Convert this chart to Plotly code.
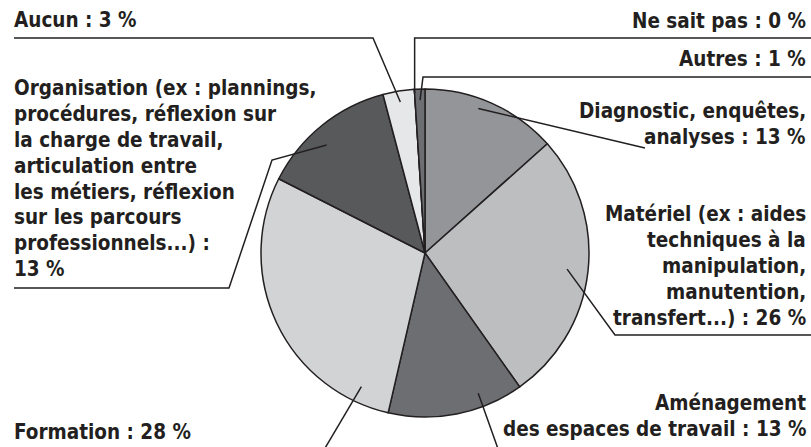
import math
import plotly.graph_objects as go

W, H = 811, 447

# Survey answers, clockwise from 12 o'clock
categories = ["Diagnostic", "Matériel", "Aménagement", "Formation",
              "Organisation", "Aucun", "Ne sait pas", "Autres"]
percents = [13, 26, 13, 28, 13, 3, 0, 1]
label_heads = [
    ["Diagnostic, enquêtes,", "analyses : "],
    ["Matériel (ex : aides", "techniques à la", "manipulation,", "manutention,",
     "transfert...) : "],
    ["Aménagement", "des espaces de travail : "],
    ["Formation : "],
    ["Organisation (ex : plannings,", "procédures, réflexion sur",
     "la charge de travail,", "articulation entre", "les métiers, réflexion",
     "sur les parcours", "professionnels...) :", ""],
    ["Aucun : "],
    ["Ne sait pas : "],
    ["Autres : "],
]
colors = ["#939598", "#bcbec0", "#6d6e71", "#d1d3d4",
          "#58595b", "#e6e7e8", "#414042", "#6d6e71"]

INK = "#231f20"
FONT = "DejaVu Sans Condensed, Arial Narrow, sans-serif"
FS = 20.5
LINE_GAP = 25.8

# pie placement (pixels)
CX, CY, R = 425, 253, 164

# label layout: (side, x, first baseline), leader anchor (fraction of slice, radius), leader path points
layout_cfg = {
    "Diagnostic": dict(side="right", x=808, base=120, frac=0.42, r=154,
                       path=[(645, 148)]),
    "Matériel": dict(side="right", x=808, base=223, frac=0.5, r=143,
                     path=[(811, 335), (615, 335)]),
    "Aménagement": dict(side="right", x=808, base=412, frac=0.3, r=150,
                        path=[(502, 460)]),
    "Formation": dict(side="left", x=12, base=441, frac=0.12, r=148,
                      path=[(318, 460)]),
    "Organisation": dict(side="left", x=12, base=97, frac=0.43, r=146,
                         path=[(14, 288), (229, 288), (272, 160)]),
    "Aucun": dict(side="left", x=12, base=29, frac=0.5, r=153,
                  path=[(14, 38), (373, 38)]),
    "Ne sait pas": dict(side="right", x=808, base=30, frac=0.5, r=160,
                        path=[(811, 38), None]),
    "Autres": dict(side="right", x=808, base=68, frac=0.5, r=153,
                   path=[(811, 77), (423, 77)]),
}


def px(x, y):
    return x / W, 1 - y / H


def polar(angle_deg, r):
    a = math.radians(angle_deg)
    return CX + r * math.sin(a), CY - r * math.cos(a)


fig = go.Figure(go.Pie(
    labels=categories,
    values=percents,
    sort=False,
    direction="clockwise",
    rotation=0,
    marker=dict(colors=colors, line=dict(color=INK, width=1.5)),
    textinfo="none",
    hoverinfo="label+value",
    showlegend=False,
    domain=dict(x=[(CX - R) / W, (CX + R) / W],
                y=[1 - (CY + R) / H, 1 - (CY - R) / H]),
))

total = sum(percents)
annotations = []
shapes = []
start = 0.0
for cat, pct, heads in zip(categories, percents, label_heads):
    span = pct / total * 360
    cfg = layout_cfg[cat]

    # label lines, the last one carrying the value
    lines = list(heads)
    lines[-1] = lines[-1] + f"{pct} %"
    for i, line in enumerate(lines):
        base = cfg["base"] + i * LINE_GAP
        ax, ay = px(cfg["x"], base - 8.6)
        annotations.append(dict(
            x=ax, y=ay, xref="paper", yref="paper",
            xanchor=cfg["side"], yanchor="middle",
            text=line, showarrow=False,
            font=dict(family=FONT, size=FS, color=INK, weight="bold"),
        ))

    # leader line from label to slice
    anchor = polar(start + cfg["frac"] * span, cfg["r"])
    pts = []
    for p in cfg["path"]:
        if p is None:
            p = (anchor[0], pts[-1][1])
        pts.append(p)
    pts.append(anchor)
    d = ""
    for i, (x, y) in enumerate(pts):
        fx, fy = px(x, y)
        d += ("M" if i == 0 else " L") + f" {fx:.5f} {fy:.5f}"
    shapes.append(dict(type="path", path=d, xref="paper", yref="paper",
                       line=dict(color=INK, width=1.5), layer="above"))
    start += span

fig.update_layout(
    width=W, height=H,
    margin=dict(l=0, r=0, t=0, b=0),
    paper_bgcolor="white",
    plot_bgcolor="white",
    annotations=annotations,
    shapes=shapes,
)

fig.write_html("out.html")
